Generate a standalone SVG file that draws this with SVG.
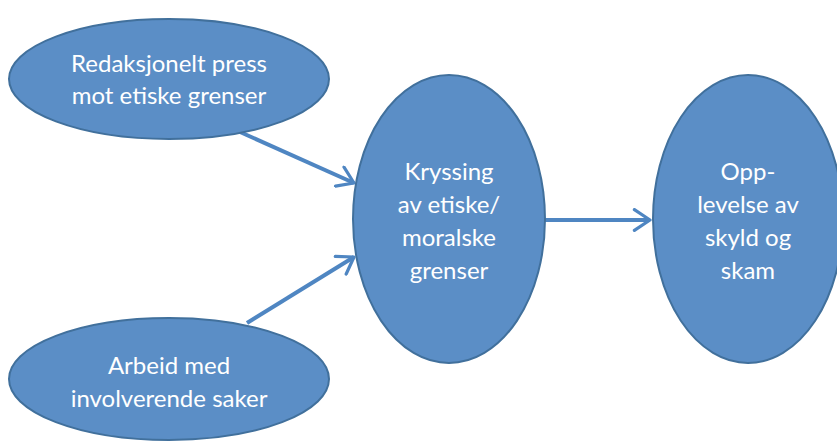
<svg xmlns="http://www.w3.org/2000/svg" width="837" height="442" viewBox="0 0 837 442">
<defs>
<style>
.node{fill:#5b8ec6;stroke:#41709c;stroke-width:2}
.lbl{font-family:Lato,"Open Sans","Liberation Sans",sans-serif;font-size:24px;fill:#ffffff;text-anchor:middle}
.edge{stroke:#4f86c2;stroke-width:4;fill:none}
</style>
<marker id="arr" viewBox="0 0 10 12" refX="9" refY="6" markerWidth="5" markerHeight="6" orient="auto" markerUnits="strokeWidth">
<path d="M1.2,0.8 L9,6 L1.2,11.2" fill="none" stroke="#4f86c2" stroke-width="1.6" stroke-linecap="round" stroke-linejoin="round"/>
</marker>
</defs>
<rect width="837" height="442" fill="#ffffff"/>
<g id="connectors">
<line class="edge" x1="240" y1="132" x2="354" y2="183" marker-end="url(#arr)"/>
<line class="edge" x1="247" y1="323" x2="354" y2="257" marker-end="url(#arr)"/>
<line class="edge" x1="545" y1="220" x2="650" y2="220" marker-end="url(#arr)"/>
</g>
<g id="node-press">
<ellipse class="node" cx="169" cy="79" rx="160" ry="60"/>
<text class="lbl" x="169" y="72">Redaksjonelt press</text>
<text class="lbl" x="169" y="104">mot etiske grenser</text>
</g>
<g id="node-arbeid">
<ellipse class="node" cx="169" cy="379" rx="160" ry="61"/>
<text class="lbl" x="169" y="374">Arbeid med</text>
<text class="lbl" x="169" y="407">involverende saker</text>
</g>
<g id="node-kryssing">
<ellipse class="node" cx="449" cy="219" rx="96" ry="144"/>
<text class="lbl" x="449" y="180">Kryssing</text>
<text class="lbl" x="449" y="213">av etiske/</text>
<text class="lbl" x="449" y="246">moralske</text>
<text class="lbl" x="449" y="279">grenser</text>
</g>
<g id="node-skyld">
<ellipse class="node" cx="748" cy="219" rx="95" ry="144"/>
<text class="lbl" x="748" y="180">Opp-</text>
<text class="lbl" x="748" y="213">levelse av</text>
<text class="lbl" x="748" y="246">skyld og</text>
<text class="lbl" x="748" y="279">skam</text>
</g>
</svg>
